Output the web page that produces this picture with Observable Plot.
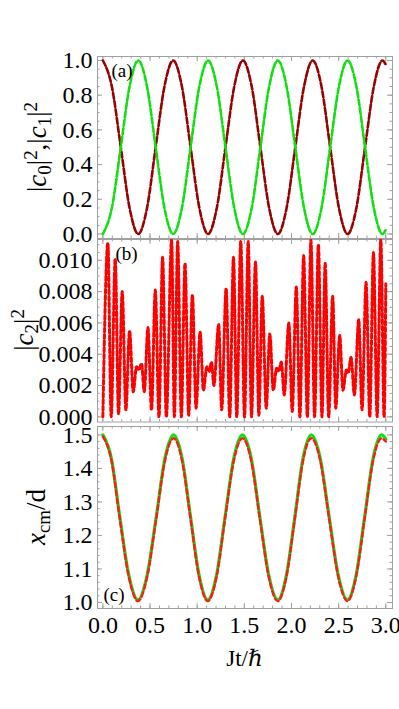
<!DOCTYPE html>
<html><head><meta charset="utf-8">
<script src="https://cdn.jsdelivr.net/npm/d3@7"></script>
<script src="https://cdn.jsdelivr.net/npm/@observablehq/plot@0.6"></script>
<style>
html,body{margin:0;padding:0;background:#fff;}
#chart{position:relative;width:399px;height:709px;}
#chart svg{position:absolute;left:0;top:0;}
</style></head><body><div id="chart"></div>
<script>
// ---------- data ----------
// panel (a): populations of the two lowest states
const tA = [0, 0.095, 0.19, 0.283, 0.375, 0.468, 0.56, 0.653, 0.745, 0.838, 0.93, 1.023, 1.115, 1.208, 1.30, 1.393, 1.485, 1.578, 1.67, 1.763, 1.855, 1.948, 2.04, 2.133, 2.225, 2.318, 2.41, 2.503, 2.595, 2.688, 2.78, 2.873, 2.965, 3.0];
const c0 = [1, 0.85, 0.5, 0.15, 0, 0.15, 0.5, 0.85, 1, 0.85, 0.5, 0.15, 0, 0.15, 0.5, 0.85, 1, 0.85, 0.5, 0.15, 0, 0.15, 0.5, 0.85, 1, 0.85, 0.5, 0.15, 0, 0.15, 0.5, 0.85, 1, 0.976];
const c1 = [0, 0.15, 0.5, 0.85, 1, 0.85, 0.5, 0.15, 0, 0.15, 0.5, 0.85, 1, 0.85, 0.5, 0.15, 0, 0.15, 0.5, 0.85, 1, 0.85, 0.5, 0.15, 0, 0.15, 0.5, 0.85, 1, 0.85, 0.5, 0.15, 0, 0.024];
// panel (b): population of the third state (extrema)
const tB = [0,0.053,0.088,0.131,0.166,0.205,0.244,0.283,0.322,0.357,0.383,0.410,0.439,0.478,0.516,0.556,0.595,0.633,0.673,0.729,0.758,0.793,0.832,0.871,0.910,0.949,0.988,1.031,1.066,1.103,1.130,1.151,1.177,1.228,1.260,1.307,1.345,1.385,1.420,1.462,1.502,1.541,1.576,1.618,1.654,1.690,1.732,1.770,1.807,1.842,1.863,1.892,1.923,1.972,2.008,2.051,2.089,2.129,2.168,2.206,2.245,2.285,2.323,2.357,2.394,2.437,2.469,2.511,2.546,2.582,2.601,2.631,2.667,2.713,2.748,2.791,2.830,2.869,2.908,2.947,2.982,3.0];
const c2 = [0,0.0111,0,0.0101,0.0002,0.0080,0.00045,0.0055,0.0016,0.0032,0.0030,0.0034,0.0016,0.0057,0.00045,0.0081,0,0.0102,0,0.0113,0,0.0112,0,0.0098,0.0001,0.0078,0.00055,0.0054,0.0017,0.0032,0.0029,0.0035,0.0020,0.0059,0.00045,0.0082,0,0.0102,0,0.0112,0,0.0112,0,0.0099,0.0001,0.0077,0.00055,0.0053,0.0017,0.0031,0.0029,0.0035,0.0014,0.0060,0.00034,0.0083,0,0.0103,0,0.0113,0,0.0110,0,0.0098,0,0.0077,0.00055,0.0052,0.0017,0.0030,0.0028,0.0038,0.0014,0.0062,0.00045,0.0086,0,0.0105,0,0.0113,0,0.0085];
// panel (c): centre of mass
const tC = [0, 0.09, 0.18, 0.276, 0.372, 0.468, 0.565, 0.658, 0.75, 0.84, 0.93, 1.021, 1.112, 1.204, 1.295, 1.388, 1.48, 1.573, 1.665, 1.76, 1.855, 1.945, 2.035, 2.122, 2.21, 2.305, 2.40, 2.497, 2.593, 2.684, 2.775, 2.865, 2.955, 3.0];
const xcmExact  = [1.5, 1.43, 1.254, 1.08, 1.008, 1.08, 1.254, 1.43, 1.5, 1.43, 1.254, 1.08, 1.008, 1.08, 1.254, 1.43, 1.5, 1.43, 1.254, 1.08, 1.008, 1.08, 1.254, 1.43, 1.5, 1.43, 1.254, 1.08, 1.008, 1.08, 1.254, 1.43, 1.5, 1.487];
const xcmApprox = [1.495, 1.425, 1.249, 1.075, 1.004, 1.075, 1.249, 1.423, 1.49, 1.423, 1.249, 1.075, 1.004, 1.075, 1.249, 1.423, 1.49, 1.423, 1.249, 1.075, 1.004, 1.075, 1.249, 1.423, 1.49, 1.423, 1.249, 1.075, 1.004, 1.075, 1.249, 1.423, 1.49, 1.48];
// ticks
const xTicks = [0, 0.5, 1, 1.5, 2, 2.5, 3];
const yTicksA = [0, 0.2, 0.4, 0.6, 0.8, 1.0];
const yTicksB = [0, 0.002, 0.004, 0.006, 0.008, 0.010];
const yTicksC = [1.0, 1.1, 1.2, 1.3, 1.4, 1.5];
const panelLabels = ["(a)", "(b)", "(c)"];
const xLabel = "Jt/\u210F";

// ---------- layout ----------
const W = 399, H = 709, L = 97, R = 392;
const xDom = [-0.057, 3.071];
const P = {
  a: {top: 56, bottom: 238, yDom: [-0.026, 1.023]},
  b: {top: 239, bottom: 421.5, yDom: [-0.00033, 0.01133]},
  c: {top: 426, bottom: 608, yDom: [0.982, 1.525]}
};
const FONT = "'Liberation Serif', 'DejaVu Serif', Times, serif";
const TICKFS = 24, LABFS = 27;
const frameCol = "#a0a0a0";
const curve = "monotone-x";

const dataA = tA.map((t, i) => ({t, c0: c0[i], c1: c1[i]}));
const dataB = tB.map((t, i) => ({t, c2: c2[i]}));
const dataC = tC.map((t, i) => ({t, ex: xcmExact[i], ap: xcmApprox[i]}));

function tickMarks(p, yMaj, yMin) {
  const kx = (R - L) / (xDom[1] - xDom[0]);
  const ky = (p.bottom - p.top) / (p.yDom[1] - p.yDom[0]);
  const out = [];
  const st = {stroke: frameCol, strokeWidth: 1};
  const xMin = d3.range(0, 3.0001, 0.1);
  for (const [vals, len] of [[yMaj, 5], [yMin, 2.5]]) {
    out.push(Plot.ruleY(vals, {y: d => d, x1: xDom[0], x2: xDom[0] + len / kx, ...st}));
    out.push(Plot.ruleY(vals, {y: d => d, x1: xDom[1] - len / kx, x2: xDom[1], ...st}));
  }
  for (const [vals, len] of [[xTicks, 5], [xMin, 2.5]]) {
    out.push(Plot.ruleX(vals, {x: d => d, y1: p.yDom[0], y2: p.yDom[0] + len / ky, ...st}));
    out.push(Plot.ruleX(vals, {x: d => d, y1: p.yDom[1] - len / ky, y2: p.yDom[1], ...st}));
  }
  return out;
}

function base(p, extra) {
  return Object.assign({
    width: W, height: H,
    marginLeft: L, marginRight: W - R, marginTop: p.top, marginBottom: H - p.bottom,
    style: {background: "transparent", fontFamily: FONT, fontSize: TICKFS + "px", color: "#000", overflow: "visible"},
  }, extra);
}

function addLabel(svg, x, y, parts, size) {
  const t = d3.select(svg).append("text")
    .attr("transform", `translate(${x},${y}) rotate(-90)`)
    .attr("text-anchor", "middle")
    .style("font-family", FONT)
    .attr("font-size", size)
    .attr("fill", "#000");
  for (const [s, o = {}] of parts) {
    const ts = t.append("tspan").text(s);
    if (o.i) ts.attr("font-style", "italic");
    if (o.sub) ts.attr("baseline-shift", "-25%").attr("font-size", size * 0.7);
    if (o.sup) ts.attr("baseline-shift", "45%").attr("font-size", size * 0.7);
  }
  return t;
}

const root = document.getElementById("chart");

// panel (a)
const pa = Plot.plot(base(P.a, {
  x: {domain: xDom, axis: null},
  y: {domain: P.a.yDom, ticks: yTicksA, tickFormat: d3.format(".1f"), tickSize: 0, tickPadding: 5, label: null},
  marks: [
    Plot.frame({stroke: frameCol}),
    ...tickMarks(P.a, yTicksA, d3.range(0, 1.0001, 0.05)),
    Plot.line(dataA, {x: "t", y: "c0", stroke: "#111", strokeWidth: 1, curve}),
    Plot.line(dataA, {x: "t", y: "c1", stroke: "#555", strokeWidth: 1, curve}),
    Plot.line(dataA, {x: "t", y: "c0", stroke: "#9a0000", strokeWidth: 2.6, strokeDasharray: "6,2.5", curve}),
    Plot.line(dataA, {x: "t", y: "c1", stroke: "#10e010", strokeWidth: 2.6, strokeDasharray: "6,2.5", curve}),
    Plot.text([panelLabels[0]], {text: d => d, frameAnchor: "top-left", dx: 14, dy: 7, fontSize: 19, textAnchor: "start"})
  ]
}));
addLabel(pa, 46, 147, [["|"], ["c", {i: 1}], ["0", {sub: 1}], ["|"], ["2", {sup: 1}], [",|"], ["c", {i: 1}], ["1", {sub: 1}], ["|"], ["2", {sup: 1}]], LABFS);
root.appendChild(pa);

// panel (b)
const pb = Plot.plot(base(P.b, {
  x: {domain: xDom, axis: null},
  y: {domain: P.b.yDom, ticks: yTicksB, tickFormat: d3.format(".3f"), tickSize: 0, tickPadding: 5, label: null},
  marks: [
    Plot.frame({stroke: frameCol}),
    ...tickMarks(P.b, yTicksB, d3.range(0, 0.0110001, 0.0005)),
    Plot.line(dataB, {x: "t", y: "c2", stroke: "#555", strokeWidth: 1, curve, clip: true}),
    Plot.line(dataB, {x: "t", y: "c2", stroke: "#ff0000", strokeWidth: 3, strokeDasharray: "4,2.5", curve, clip: true}),
    Plot.text([panelLabels[1]], {text: d => d, frameAnchor: "top-left", dx: 18, dy: 7, fontSize: 19, textAnchor: "start"})
  ]
}));
addLabel(pb, 33, 330, [["|"], ["c", {i: 1}], ["2", {sub: 1}], ["|"], ["2", {sup: 1}]], LABFS);
root.appendChild(pb);

// panel (c)
const pc = Plot.plot(base(P.c, {
  x: {domain: xDom, ticks: xTicks, tickFormat: d3.format(".1f"), tickSize: 0, tickPadding: 7, label: null},
  y: {domain: P.c.yDom, ticks: yTicksC, tickFormat: d3.format(".1f"), tickSize: 0, tickPadding: 5, label: null},
  marks: [
    Plot.frame({stroke: frameCol}),
    ...tickMarks(P.c, yTicksC, d3.range(1.0, 1.5001, 0.02)),
    Plot.line(dataC, {x: "t", y: "ex", stroke: "#10e010", strokeWidth: 3.2, curve}),
    Plot.line(dataC, {x: "t", y: "ap", stroke: "#ff1a1a", strokeWidth: 2.4, strokeDasharray: "5,3", curve}),
    Plot.text([panelLabels[2]], {text: d => d, frameAnchor: "bottom-left", dx: 6, dy: -8, fontSize: 19, textAnchor: "start"})
  ]
}));
addLabel(pc, 45, 517, [["x", {i: 1}], ["cm", {sub: 1}], ["/d"]], LABFS);
d3.select(pc).append("text").attr("x", (L + R) / 2).attr("y", 666)
  .attr("text-anchor", "middle").style("font-family", FONT).attr("font-size", 23).attr("fill", "#000")
  .text(xLabel);
root.appendChild(pc);
</script>
</body></html>
